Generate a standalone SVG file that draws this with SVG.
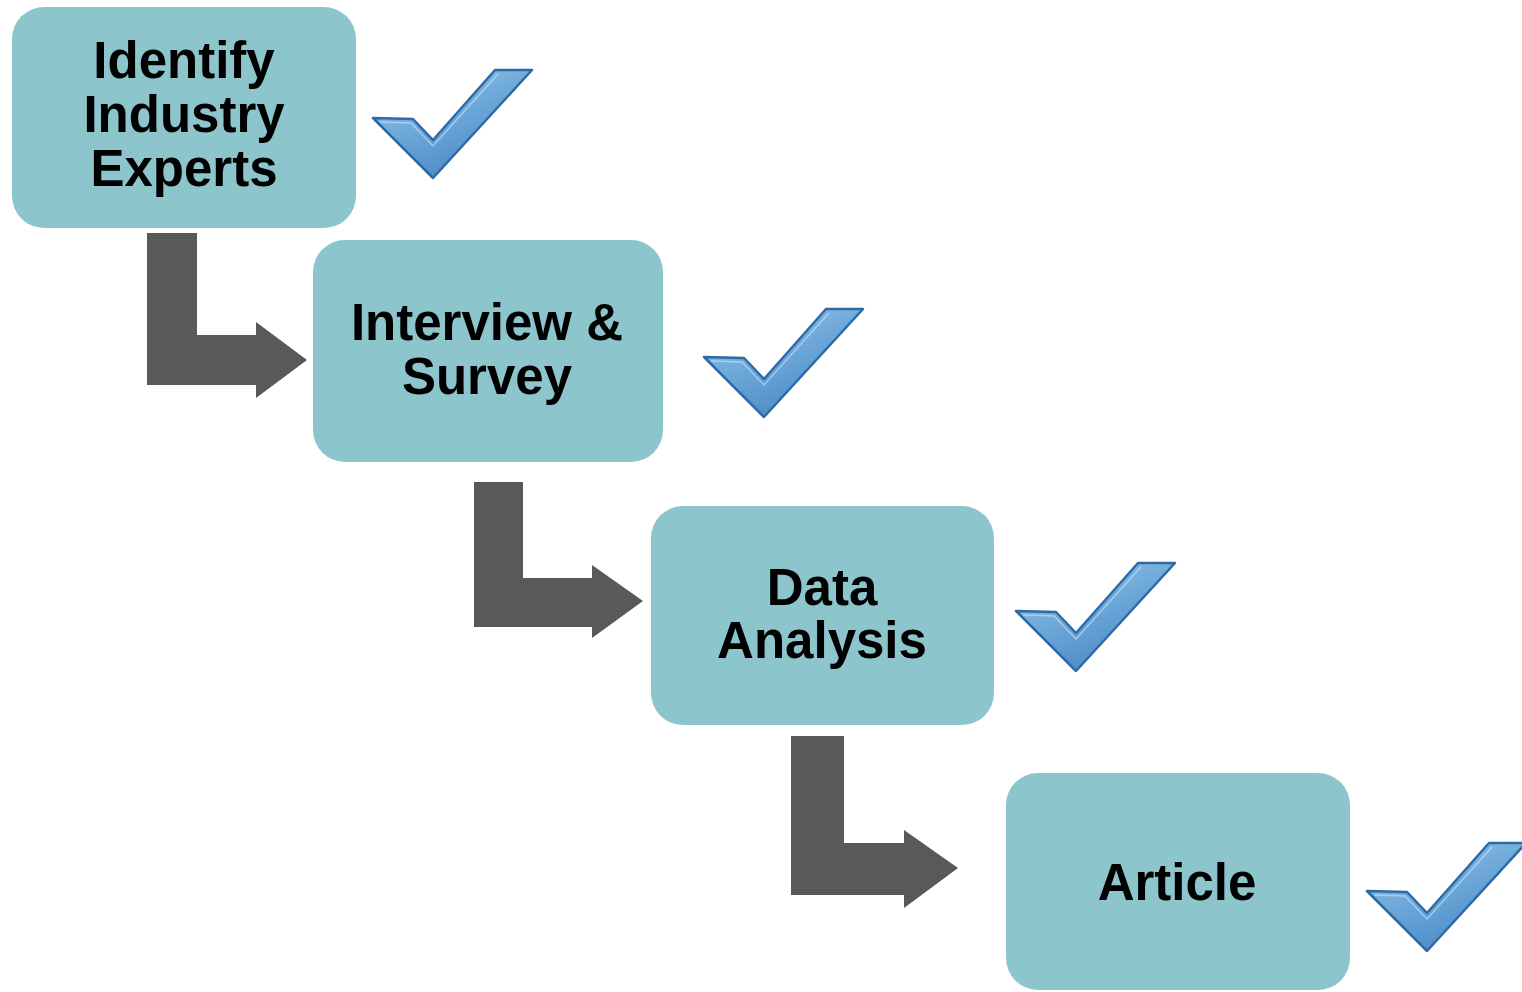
<svg xmlns="http://www.w3.org/2000/svg" width="1522" height="992" viewBox="0 0 1522 992">
  <style>
    .box { fill: #8cc6cc; }
    .lbl { font-family: "Liberation Sans", Arial, sans-serif; font-weight: bold; font-size: 51px; fill: #000; text-anchor: middle; }
    .arrow { fill: #595959; }
  </style>
  <defs>
    <linearGradient id="chk" x1="0" y1="0" x2="0.6" y2="1">
      <stop offset="0" stop-color="#9ccbec"/>
      <stop offset="0.55" stop-color="#6aa6d8"/>
      <stop offset="1" stop-color="#4a88c4"/>
    </linearGradient>
    <!-- check mark, origin at its left tip -->
    <g id="check">
      <path d="M0 0 L40 1 L60 22 L122 -48 L159 -48 L60 60 Z" fill="url(#chk)" stroke="#2e6aa6" stroke-width="2.5" stroke-linejoin="round"/>
      <path d="M7 4 L38 5 L60 28 L125 -44" fill="none" stroke="#cfe6f7" stroke-width="1.5" opacity="0.6"/>
    </g>
  </defs>
  <rect width="1522" height="992" fill="#fff"/>

  <g id="connectors">
    <path class="arrow" d="M147 233 H197 V335 H256 V322 L307 360 L256 398 V385 H147 Z"/>
    <path class="arrow" d="M474 482 H523 V578 H592 V565 L643 601 L592 638 V627 H474 Z"/>
    <path class="arrow" d="M791 736 H844 V843 H904 V830 L958 868 L904 908 V895 H791 Z"/>
  </g>

  <g id="node-identify">
    <rect class="box" x="12" y="7" width="344" height="221" rx="32"/>
    <text class="lbl" x="184" y="78">Identify</text>
    <text class="lbl" x="184" y="132">Industry</text>
    <text class="lbl" x="184" y="186">Experts</text>
  </g>
  <g id="node-interview">
    <rect class="box" x="313" y="240" width="350" height="222" rx="32"/>
    <text class="lbl" x="487" y="340">Interview &amp;</text>
    <text class="lbl" x="487" y="394">Survey</text>
  </g>
  <g id="node-data">
    <rect class="box" x="651" y="506" width="343" height="219" rx="32"/>
    <text class="lbl" x="822" y="605">Data</text>
    <text class="lbl" x="822" y="658">Analysis</text>
  </g>
  <g id="node-article">
    <rect class="box" x="1006" y="773" width="344" height="217" rx="32"/>
    <text class="lbl" x="1177" y="900">Article</text>
  </g>

  <g id="checks">
    <use href="#check" x="373" y="118"/>
    <use href="#check" x="704" y="357"/>
    <use href="#check" x="1016" y="611"/>
    <use href="#check" x="1367" y="891"/>
  </g>
</svg>
